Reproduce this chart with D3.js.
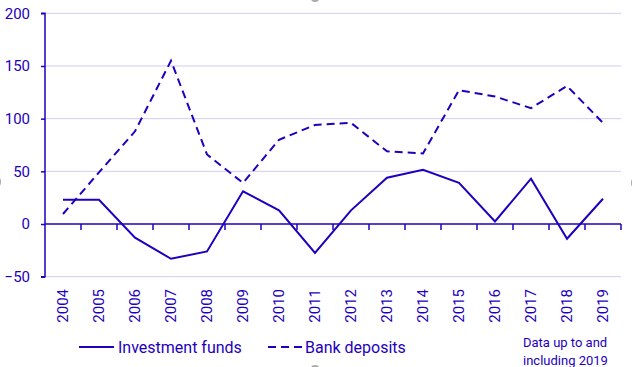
<!DOCTYPE html>
<html><head><meta charset="utf-8">
<script src="https://cdn.jsdelivr.net/npm/d3@7"></script>
<style>body{margin:0;background:#fff;}svg{display:block;font-family:Roboto,sans-serif;}</style>
</head><body>
<svg id="c" width="632" height="367"></svg>
<script>
const years = ["2004","2005","2006","2007","2008","2009","2010","2011","2012","2013","2014","2015","2016","2017","2018","2019"];
const investmentFunds = [23,23,-13,-33,-26,31,13,-27.5,13,44,51.5,39,2.5,43,-14,24];
const bankDeposits = [9.5,49,88,155,66,39,80,94,96,69,67,127,121,110,131,96];
const yTicks = [-50,0,50,100,150,200];
const seriesNames = ["Investment funds","Bank deposits"];
const noteLines = ["Data up to and","including 2019"];

const col = "#1e00be", grid = "#d0ccf2";
const svg = d3.select("#c");
const L = 45, R = 621, T = 13.3, B = 276.7;
const x = d3.scaleBand().domain(years).range([L, R]);
const y = d3.scaleLinear().domain([-50, 200]).range([B, T]);

// gridlines
svg.append("g").selectAll("line").data(yTicks.filter(d => d !== 0)).join("line")
  .attr("x1", L).attr("x2", R).attr("y1", d => y(d)).attr("y2", d => y(d))
  .attr("stroke", grid).attr("stroke-width", 1);

// y axis
const ya = svg.append("g").attr("transform", `translate(${L},0)`)
  .call(d3.axisLeft(y).tickValues(yTicks).tickSize(4).tickPadding(11).tickFormat(d3.format("d")));
ya.select(".domain").attr("stroke", col).attr("stroke-width", 1.5).attr("d", `M-4,${T}H0V${B}H-4`);
ya.selectAll(".tick line").attr("stroke", col).attr("stroke-width", 1.5);
ya.selectAll("text").attr("fill", col).attr("font-size", 15).attr("font-family", "Roboto");

// zero axis with ticks at band boundaries
const xa = svg.append("g").attr("transform", `translate(0,${y(0)})`);
xa.append("line").attr("x1", L).attr("x2", R).attr("stroke", col).attr("stroke-width", 1.5);
xa.selectAll("line.t").data(years).join("line").attr("class", "t")
  .attr("x1", d => x(d) + x.bandwidth()).attr("x2", d => x(d) + x.bandwidth())
  .attr("y1", 0).attr("y2", 6).attr("stroke", col).attr("stroke-width", 1.5);

// x labels
svg.append("g").selectAll("text").data(years).join("text")
  .attr("transform", d => `translate(${x(d) + x.bandwidth()/2 + 5},289) rotate(-90)`)
  .attr("text-anchor", "end").attr("fill", col).attr("font-size", 15).text(d => d);

// lines
const line = d3.line().x((d, i) => x(years[i]) + x.bandwidth()/2).y(d => y(d));
svg.append("path").datum(investmentFunds).attr("d", line).attr("fill", "none")
  .attr("stroke", col).attr("stroke-width", 2).attr("stroke-linejoin", "miter");
svg.append("path").datum(bankDeposits).attr("d", line).attr("fill", "none")
  .attr("stroke", col).attr("stroke-width", 2).attr("stroke-dasharray", "8,5");

// legend
const lg = svg.append("g");
lg.append("line").attr("x1", 79).attr("x2", 114).attr("y1", 347).attr("y2", 347).attr("stroke", col).attr("stroke-width", 2);
lg.append("text").attr("x", 118).attr("y", 347).attr("dy", "0.35em").attr("fill", col).attr("font-size", 16).text(seriesNames[0]);
lg.append("line").attr("x1", 268).attr("x2", 303).attr("y1", 347).attr("y2", 347).attr("stroke", col).attr("stroke-width", 2).attr("stroke-dasharray", "8,5");
lg.append("text").attr("x", 305).attr("y", 347).attr("dy", "0.35em").attr("fill", col).attr("font-size", 16).text(seriesNames[1]);

// note
svg.append("g").selectAll("text").data(noteLines).join("text")
  .attr("x", 523).attr("y", (d, i) => 342 + i * 18).attr("dy", "0.35em")
  .attr("fill", col).attr("font-size", 13).text(d => d);

// faint handles
[[315,-1,4,3],[315,368,4,3],[-1,182,2,4],[633,183,2,4]].forEach(p => {
  svg.append("ellipse").attr("cx", p[0]).attr("cy", p[1]).attr("rx", p[2]).attr("ry", p[3]).attr("fill", "#aaa");
});
</script>
</body></html>
